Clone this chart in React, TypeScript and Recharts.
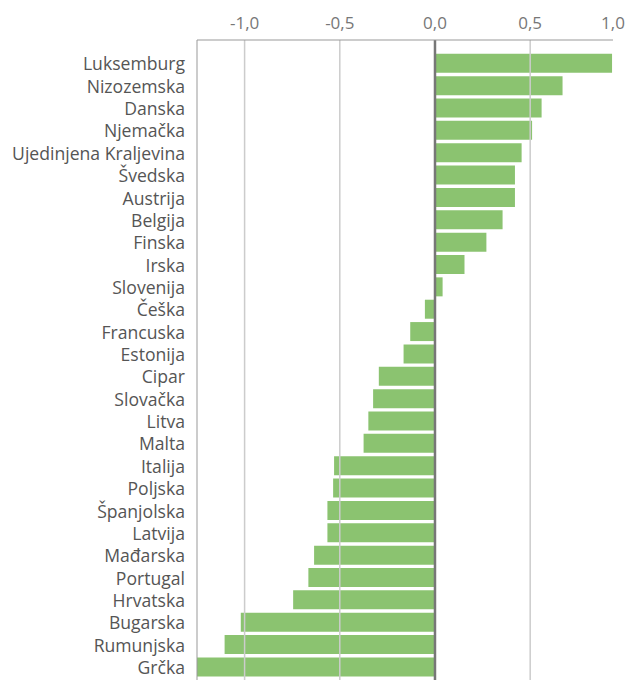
import { Bar, BarChart, ReferenceLine, XAxis, YAxis } from "recharts";

const countries = [
  "Luksemburg", "Nizozemska", "Danska", "Njemačka", "Ujedinjena Kraljevina",
  "Švedska", "Austrija", "Belgija", "Finska", "Irska", "Slovenija", "Češka",
  "Francuska", "Estonija", "Cipar", "Slovačka", "Litva", "Malta", "Italija",
  "Poljska", "Španjolska", "Latvija", "Mađarska", "Portugal", "Hrvatska",
  "Bugarska", "Rumunjska", "Grčka",
];

const values = [
  0.93, 0.67, 0.56, 0.51, 0.455, 0.42, 0.42, 0.355, 0.27, 0.155, 0.04, -0.053,
  -0.13, -0.165, -0.295, -0.325, -0.35, -0.375, -0.53, -0.535, -0.565, -0.565,
  -0.635, -0.665, -0.745, -1.02, -1.105, -1.25,
];

const xTicks = [-1, -0.5, 0, 0.5, 0.935];
const gridValues = [-1, -0.5, 0.5];

const data = countries.map((name, i) => ({ name, value: values[i] }));

const font = "'Open Sans', sans-serif";

function fmt(v: number) {
  const r = Math.round(v * 2) / 2;
  return r.toFixed(1).replace(".", ",");
}

export default function App() {
  return (
    <div style={{ position: "absolute", left: 8, top: 8, width: 619, height: 674, fontFamily: font }}>
      <BarChart
        width={619}
        height={674}
        data={data}
        layout="vertical"
        margin={{ top: 2, right: 14, bottom: 2, left: 0 }}
        barCategoryGap="8%"
      >
        <XAxis
          type="number"
          orientation="top"
          domain={[-1.25, 0.935]}
          ticks={xTicks}
          tickFormatter={fmt}
          height={30}
          tickLine={false}
          tickMargin={5}
          axisLine={{ stroke: "#999" }}
          tick={{ fill: "#777", fontSize: 17, fontFamily: font }}
          allowDataOverflow
        />
        <YAxis
          type="category"
          dataKey="name"
          width={189}
          interval={0}
          tickLine={false}
          tickMargin={6}
          padding={{ top: 12, bottom: 2 }}
          axisLine={{ stroke: "#999" }}
          tick={{ fill: "#555", fontSize: 17.6, fontFamily: font, dy: 1 }}
        />
        {gridValues.map((g) => (
          <ReferenceLine key={g} x={g} stroke="#ccc" strokeWidth={1.5} />
        ))}
        <Bar dataKey="value" fill="#8bc370" isAnimationActive={false} />
        <ReferenceLine x={0} stroke="#777" strokeWidth={2.5} />
      </BarChart>
    </div>
  );
}
